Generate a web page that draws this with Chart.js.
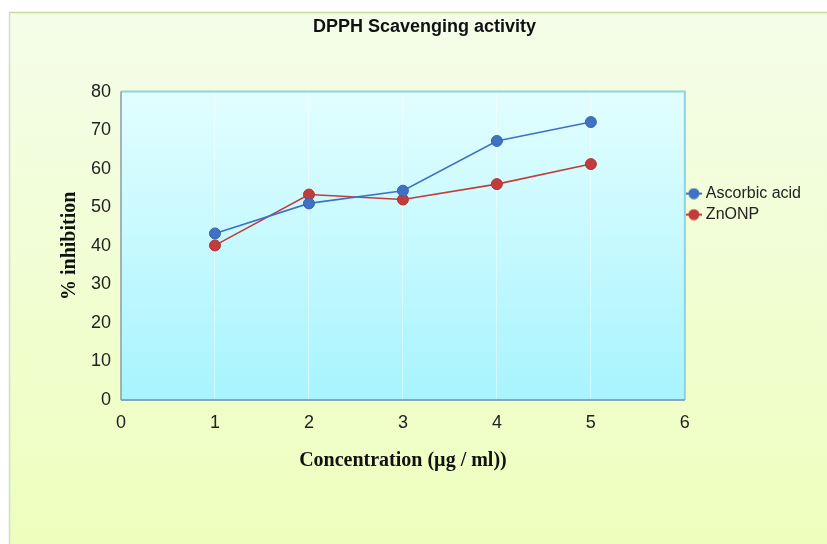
<!DOCTYPE html>
<html>
<head>
<meta charset="utf-8">
<title>DPPH Scavenging activity</title>
<script src="https://cdn.jsdelivr.net/npm/chart.js@4.4.1/dist/chart.umd.min.js"></script>
<style>
  html, body { margin: 0; padding: 0; background: #ffffff; }
  #wrap { width: 827px; height: 544px; position: relative; }
</style>
</head>
<body>
<div id="wrap"><canvas id="chart" width="827" height="544"></canvas></div>
<script>
// Concentration (µg / ml) and % inhibition for each sample
const concentrations = [1, 2, 3, 4, 5];
const ascorbicAcid = [43.2, 51.0, 54.3, 67.2, 72.1];
const znonp = [40.1, 53.3, 52.0, 56.0, 61.2];
const seriesNames = ['Ascorbic acid', 'ZnONP'];

const BLUE = '#3f72c2';
const RED = '#c33c3c';

const toPoints = vals => concentrations.map((c, i) => ({ x: c, y: vals[i] }));

// Legend marker: short line with a dot in the middle
function markerIcon(color) {
  const c = document.createElement('canvas');
  c.width = 16; c.height = 12;
  const g = c.getContext('2d');
  g.strokeStyle = color; g.lineWidth = 2;
  g.beginPath(); g.moveTo(0, 6); g.lineTo(16, 6); g.stroke();
  g.fillStyle = color;
  g.beginPath(); g.arc(8, 6, 5.5, 0, Math.PI * 2); g.fill();
  return c;
}

// Backgrounds: outer frame panel and the plot area gradient, plus the plot border
const panelPlugin = {
  id: 'panel',
  beforeDraw(chart) {
    const { ctx, width, height, chartArea: a } = chart;
    ctx.save();
    ctx.fillStyle = '#ffffff';
    ctx.fillRect(0, 0, width, height);
    const og = ctx.createLinearGradient(0, 12, 0, height);
    og.addColorStop(0, '#f5fde9');
    og.addColorStop(1, '#edffbd');
    ctx.fillStyle = og;
    ctx.fillRect(9, 12, width - 9, height - 12);
    ctx.strokeStyle = '#c6dc9a';
    ctx.lineWidth = 1.5;
    ctx.beginPath(); ctx.moveTo(9, 12.5); ctx.lineTo(width, 12.5); ctx.stroke();
    ctx.strokeStyle = '#d3dcc4';
    ctx.beginPath(); ctx.moveTo(9.5, 12); ctx.lineTo(9.5, height); ctx.stroke();
    const pg = ctx.createLinearGradient(0, a.top, 0, a.bottom);
    pg.addColorStop(0, '#e2feff');
    pg.addColorStop(1, '#a8f4fe');
    ctx.fillStyle = pg;
    ctx.fillRect(a.left, a.top, a.right - a.left, a.bottom - a.top);
    ctx.restore();
  },
  beforeDatasetsDraw(chart) {
    const { ctx, chartArea: a } = chart;
    ctx.save();
    ctx.lineWidth = 2;
    ctx.strokeStyle = '#8fd2e0';
    ctx.beginPath();
    ctx.moveTo(a.left, a.top); ctx.lineTo(a.right, a.top); ctx.lineTo(a.right, a.bottom);
    ctx.stroke();
    ctx.strokeStyle = '#86a6ba';
    ctx.beginPath(); ctx.moveTo(a.left, a.bottom); ctx.lineTo(a.right, a.bottom); ctx.stroke();
    ctx.lineWidth = 1.5;
    ctx.strokeStyle = '#8a98a8';
    ctx.beginPath(); ctx.moveTo(a.left, a.top); ctx.lineTo(a.left, a.bottom); ctx.stroke();
    ctx.restore();
  }
};

new Chart(document.getElementById('chart'), {
  type: 'line',
  data: {
    datasets: [
      {
        label: seriesNames[0],
        data: toPoints(ascorbicAcid),
        borderColor: BLUE,
        backgroundColor: BLUE,
        borderWidth: 1.6,
        pointRadius: 5.5,
        pointBorderWidth: 1,
        pointBorderColor: '#3565b0',
        tension: 0
      },
      {
        label: seriesNames[1],
        data: toPoints(znonp),
        borderColor: RED,
        backgroundColor: RED,
        borderWidth: 1.6,
        pointRadius: 5.5,
        pointBorderWidth: 1,
        pointBorderColor: '#b03434',
        tension: 0
      }
    ]
  },
  options: {
    responsive: false,
    animation: false,
    layout: { padding: { left: 38, right: 16, top: 0, bottom: 67 } },
    plugins: {
      title: {
        display: true,
        text: 'DPPH Scavenging activity',
        color: '#111111',
        font: { family: '"Liberation Sans", Arial, sans-serif', size: 18, weight: 'bold' },
        padding: { top: 16, bottom: 54 }
      },
      legend: {
        position: 'right',
        align: 'start',
        fullSize: false,
        title: { display: true, text: ' ', font: { size: 10 }, padding: { top: 77, bottom: 0 } },
        labels: {
          usePointStyle: true,
          boxWidth: 8,
          boxHeight: 8,
          padding: 5,
          color: '#222222',
          font: { family: '"Liberation Sans", Arial, sans-serif', size: 16 },
          generateLabels(chart) {
            const items = Chart.defaults.plugins.legend.labels.generateLabels(chart);
            items.forEach((it, i) => { it.pointStyle = markerIcon(chart.data.datasets[i].borderColor); });
            return items;
          }
        }
      },
      tooltip: { enabled: false }
    },
    scales: {
      x: {
        type: 'linear',
        min: 0,
        max: 6,
        afterFit(s) { s.height = 77; },
        border: { display: false },
        grid: { color: 'rgba(255,255,255,0.45)', drawTicks: false, lineWidth: 1 },
        ticks: {
          stepSize: 1,
          padding: 12,
          color: '#222222',
          font: { family: '"Liberation Sans", Arial, sans-serif', size: 18 }
        },
        title: {
          display: true,
          text: 'Concentration (µg / ml))',
          color: '#111111',
          font: { family: '"Liberation Serif", "Times New Roman", serif', size: 20, weight: 'bold' },
          padding: { top: 4, bottom: 4 }
        }
      },
      y: {
        min: 0,
        max: 80,
        afterFit(s) { s.width = 83; },
        border: { display: false },
        grid: { display: false, drawTicks: false },
        ticks: {
          stepSize: 10,
          padding: 10,
          color: '#222222',
          font: { family: '"Liberation Sans", Arial, sans-serif', size: 18 }
        },
        title: {
          display: true,
          text: '% inhibition',
          color: '#111111',
          font: { family: '"Liberation Serif", "Times New Roman", serif', size: 20, weight: 'bold' },
          padding: { top: 20, bottom: 4 }
        }
      }
    }
  },
  plugins: [panelPlugin]
});
</script>
</body>
</html>
